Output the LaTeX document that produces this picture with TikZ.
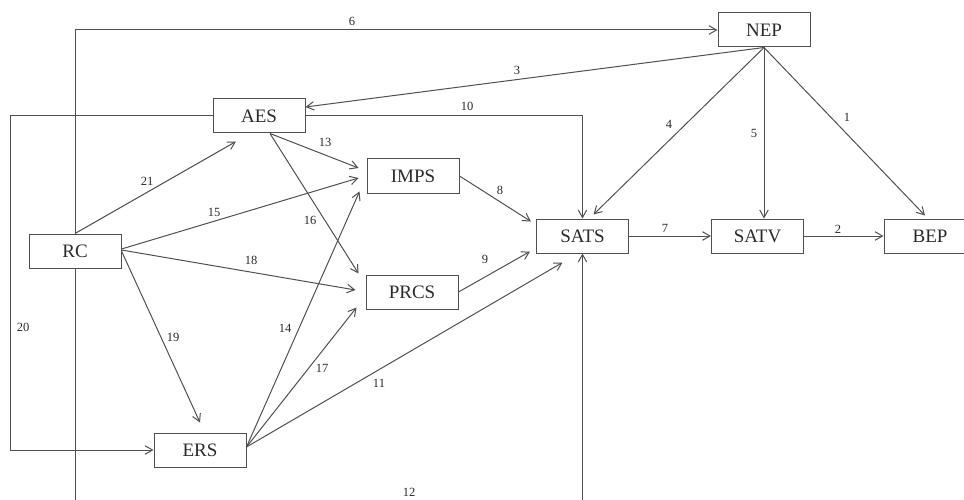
\documentclass[tikz,border=0pt]{standalone}
\usepackage{fontspec}
\setmainfont{Liberation Serif}
\usetikzlibrary{arrows.meta}
\definecolor{ink}{HTML}{505050}
\definecolor{txt}{HTML}{2A2A2A}
\begin{document}
\begin{tikzpicture}[x=1pt,y=-1pt,
  box/.style={draw=ink,line width=1pt,minimum width=92pt,minimum height=34pt,
    inner sep=0pt,text=txt,font=\fontsize{19}{19}\selectfont},
  lbl/.style={inner sep=0pt,text=txt,font=\fontsize{12.5}{13}\selectfont},
  conn/.style={draw=ink,line width=1pt,-{Straight Barb[length=7.5pt,width=8.5pt,line width=1pt]}}]
\useasboundingbox (0,0) rectangle (964,500);

% boxes
\node[box] (NEP)  at (764,30)    {NEP};
\node[box] (AES)  at (259,116)   {AES};
\node[box] (IMPS) at (413,176)   {IMPS};
\node[box] (RC)   at (75,251)    {RC};
\node[box] (PRCS) at (412,292)   {PRCS};
\node[box] (ERS)  at (200,450)   {ERS};
\node[box] (SATS) at (582.5,236) {SATS};
\node[box] (SATV) at (757.5,236) {SATV};
\node[box] (BEP)  at (930,236)   {BEP};

% helper points for the routed connectors
\coordinate (c20) at (10,116);
\coordinate (c12) at (75,504);
\coordinate (aesOut) at ([xshift=11pt]AES.south);
\coordinate (ersOut) at ([yshift=3pt]ERS.east);

% connectors
\path[conn] (RC.north) |- (NEP.west);
\path[conn] (AES.west) -- (c20) |- (ERS.west);
\path[conn] (AES.east) -| (SATS.north);
\path[conn] (RC.south) -- (c12) -| (SATS.south);
\path[conn] (NEP.south) -- ([yshift=9pt]AES.east);
\path[conn] (NEP.south) -- ([xshift=11pt,yshift=4pt]SATS.north);
\path[conn] (NEP.south) -- (NEP.south |- SATV.north);
\path[conn] (NEP.south) -- ([xshift=-5pt,yshift=3pt]BEP.north);
\path[conn] (SATS.east) -- (SATV.west);
\path[conn] (SATV.east) -- (BEP.west);
\path[conn] (IMPS.east) -- ([shift={(-5pt,-3pt)}]SATS.north west);
\path[conn] (PRCS.east) -- ([shift={(-6pt,2pt)}]SATS.south west);
\path[conn] (ersOut) -- ([xshift=-20pt,yshift=-9pt]SATS.south);
\path[conn] (aesOut) -- ([shift={(-8pt,8pt)}]IMPS.west);
\path[conn] (aesOut) -- ([shift={(-7pt,1pt)}]PRCS.north west);
\path[conn] (RC.north) -- ([shift={(-23pt,-8pt)}]AES.south);
\path[conn] ([yshift=2pt]RC.east) -- ([shift={(-8pt,-2pt)}]IMPS.west);
\path[conn] ([yshift=1pt]RC.east) -- ([shift={(-10pt,2pt)}]PRCS.west);
\path[conn] (RC.east) -- ([yshift=10pt]ERS.north);
\path[conn] (ersOut) -- ([shift={(-7pt,2pt)}]IMPS.south west);
\path[conn] (ersOut) -- ([shift={(-9pt,2pt)}]PRCS.south west);

% connector numbers
\node[lbl] (l1)  at (847,117) {1};
\node[lbl] (l2)  at (838,229) {2};
\node[lbl] (l3)  at (517,70)  {3};
\node[lbl] (l4)  at (669,124) {4};
\node[lbl] (l5)  at (754,133) {5};
\node[lbl] (l6)  at (352,21)  {6};
\node[lbl] (l7)  at (665,228) {7};
\node[lbl] (l8)  at (500,190) {8};
\node[lbl] (l9)  at (485,259) {9};
\node[lbl] (l10) at (467,106) {10};
\node[lbl] (l11) at (379,383) {11};
\node[lbl] (l12) at (409,492) {12};
\node[lbl] (l13) at (325,142) {13};
\node[lbl] (l14) at (285,328) {14};
\node[lbl] (l15) at (214,212) {15};
\node[lbl] (l16) at (310,220) {16};
\node[lbl] (l17) at (322,368) {17};
\node[lbl] (l18) at (251,260) {18};
\node[lbl] (l19) at (173,337) {19};
\node[lbl] (l20) at (23,327)  {20};
\node[lbl] (l21) at (147,181) {21};
\end{tikzpicture}
\end{document}
